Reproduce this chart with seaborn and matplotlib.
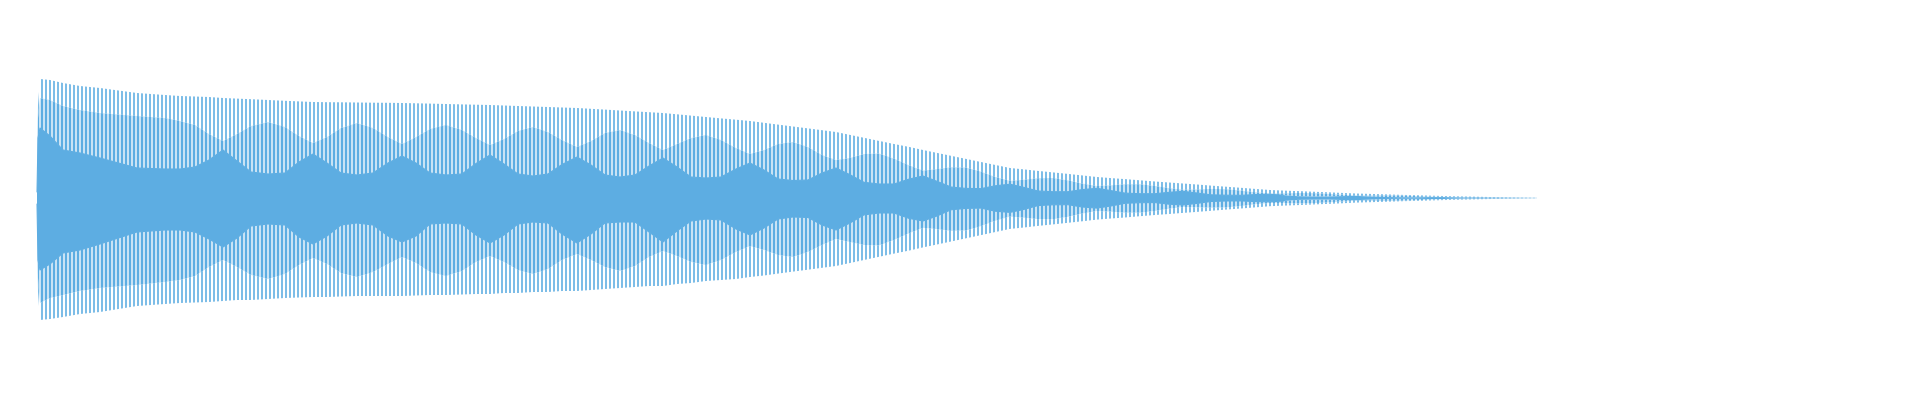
import numpy as np
import pandas as pd
import matplotlib
matplotlib.use("Agg")
import matplotlib.pyplot as plt
import seaborn as sns

COLOR = "#5DADE2"

# time since onset (ms) of envelope reading points
time_ms = [0, 1, 3, 13, 26, 43, 63, 100, 128, 143, 158, 172,
           186, 200, 214, 231, 248, 262,
           276, 290, 304, 320, 336, 351,
           365, 379, 393, 409, 425, 439,
           453, 467, 481, 496, 511, 525,
           540, 554, 568, 583, 598, 612,
           626, 640, 654, 669, 684, 699,
           713, 727, 741, 756, 771, 785,
           799, 813, 827, 842, 857, 872,
           886, 900, 914, 929, 944, 958,
           973, 987, 1001, 1016, 1031, 1045,
           1060, 1074, 1088, 1103, 1118, 1132,
           1146, 1160, 1174, 1189, 1204, 1218,
           1233, 1247, 1261, 1276, 1291, 1305,
           1319, 1333, 1347, 1363, 1378, 1392,
           1406, 1428, 1453, 1478, 1500]

# peak amplitude reached by the tallest spikes (upper side)
outer_up = [6, 93, 119, 118, 115, 112, 110, 105, 103, 102, 101.5, 101,
            100, 99.4, 98.8, 98, 97.2, 96.6,
            96, 95.8, 95.7, 95.5, 95.3, 95.2,
            95, 94.7, 94.4, 94, 93.6, 93.3,
            93, 92.5, 92, 91.5, 91, 90.5,
            90, 89.2, 88.4, 87.5, 86.6, 85.8,
            85, 83.7, 82.4, 81, 79.6, 78.3,
            77, 75.2, 73.4, 71.5, 69.6, 67.8,
            66, 63.1, 60.2, 57.1, 54, 51.1,
            48, 45.1, 42.2, 39.1, 36, 33.1,
            30, 28.6, 27.1, 25.6, 24.1, 22.6,
            21, 19.9, 18.9, 17.7, 16.5, 15.5,
            14.5, 13.5, 12.4, 11.3, 10.2, 9.1,
            8, 7.4, 6.9, 6.3, 5.7, 5.1,
            4.5, 4.1, 3.7, 3.2, 2.8, 2.4,
            2, 1.5, 1, 0.6, 0.3]

# height of the shorter secondary spikes (upper side)
second_up = [6, 80, 100, 98, 92, 88, 85, 82, 80, 77, 73, 64,
             57, 64, 72, 76, 71, 62,
             55, 61, 70, 75, 70, 61,
             54, 61, 69, 73, 68, 60,
             53, 59, 67, 71, 66, 58,
             51, 57, 65, 68, 63, 55,
             48, 54, 60, 63, 58, 50,
             44, 48, 54, 56, 51, 43,
             38, 40, 44, 44.5, 39.4, 32.7,
             27.4, 28.9, 30.8, 30.5, 26.3, 21.2,
             17.1, 18.3, 19.8, 20, 17.6, 14.5,
             12, 12.7, 13.8, 13.8, 12, 9.9,
             8.3, 8.6, 9.1, 8.8, 7.4, 5.8,
             4.6, 4.7, 5, 4.9, 4.2, 3.3,
             2.6, 2.6, 2.7, 2.5, 2, 1.5,
             1.1, 1.1, 0.78, 0.4, 0.2]

# edge of the dense (solid) core, upper side
inner_up = [6, 60, 70, 62, 48, 45, 40, 30, 29, 29, 31, 38,
            48, 37, 26, 24, 25, 36,
            44, 35, 25, 23, 25, 35,
            42, 35, 25, 23, 24, 34.5,
            43, 34, 24, 22, 24, 33.5,
            41, 33, 23, 21, 23, 32,
            40, 31, 21, 20, 21, 29,
            35, 28, 19, 17.5, 18, 25,
            30, 23.3, 15.7, 14, 14, 18.9,
            22, 16.7, 11, 9.6, 9.4, 12.2,
            13.8, 10.6, 7, 6.3, 6.3, 8.4,
            9.7, 7.4, 4.9, 4.3, 4.3, 5.7,
            6.7, 5, 3.2, 2.8, 2.7, 3.4,
            3.7, 2.7, 1.8, 1.5, 1.5, 1.9,
            2.1, 1.5, 1, 0.8, 0.7, 0.9,
            0.9, 0.4, 0.25, 0.2, 0.1]

# edge of the dense (solid) core, lower side
inner_down = [-6, -62, -72, -66, -55, -52, -46, -34, -32, -32, -34, -41,
              -49, -40, -28, -26, -27, -39,
              -46, -38, -27, -25, -27, -38,
              -44, -38, -26, -25, -26, -37,
              -45, -37, -26, -24, -25, -36,
              -45, -36, -25, -24, -24, -34,
              -44, -33, -23, -21, -22, -31,
              -37, -30, -21, -19, -19.5, -27,
              -32, -25, -16.9, -15, -15, -20.4,
              -23, -18, -11.8, -10.4, -10.1, -13.2,
              -14.4, -11.4, -7.6, -6.8, -6.7, -9,
              -10.1, -8, -5.3, -4.7, -4.6, -6.2,
              -7, -5.4, -3.5, -3, -2.9, -3.6,
              -3.8, -3, -1.9, -1.7, -1.6, -2,
              -2.2, -1.6, -1, -0.85, -0.8, -1,
              -1, -0.45, -0.27, -0.2, -0.1]

# height of the shorter secondary spikes (lower side)
second_down = [-6, -80, -105, -100, -97, -93, -90, -87, -84, -82, -78, -69,
               -62, -69, -77, -81, -76, -67,
               -60, -66, -75, -79, -74, -66,
               -59, -65, -74, -78, -73, -64,
               -58, -64, -72, -76, -71, -62,
               -56, -62, -69, -73, -68, -59,
               -53, -58, -64, -67, -62, -54,
               -48, -52, -57, -59, -54, -47,
               -41, -44, -47, -47.4, -42, -35.3,
               -29.8, -31.1, -32.9, -32.5, -28.1, -22.8,
               -18.6, -19.7, -21.1, -21.2, -18.8, -15.6,
               -13, -13.7, -14.7, -14.7, -12.9, -10.7,
               -9, -9.3, -9.7, -9.4, -8, -6.3,
               -5, -5.1, -5.4, -5.2, -4.4, -3.5,
               -2.8, -2.8, -2.9, -2.7, -2.2, -1.7,
               -1.2, -1.2, -0.83, -0.45, -0.2]

# peak amplitude reached by the tallest spikes (lower side)
outer_down = [-6, -94, -122, -121, -119, -116, -114, -108, -106, -105, -104.5, -104,
              -103, -102, -102, -101, -100, -99.5,
              -99, -99, -98.5, -98, -98, -98,
              -98, -97.5, -97, -97, -96.5, -96,
              -96, -95, -95, -94, -94, -93,
              -93, -92, -91, -90, -89, -88,
              -88, -86, -85, -83, -82, -81,
              -79, -77.5, -75.6, -73.6, -71.7, -69.8,
              -68, -65, -62, -58.8, -55.6, -52.6,
              -49.4, -46.5, -43.5, -40.3, -37.1, -34.1,
              -30.9, -29.5, -27.9, -26.4, -24.8, -23.3,
              -21.6, -20.5, -19.5, -18.2, -17, -16,
              -14.9, -13.9, -12.8, -11.6, -10.5, -9.4,
              -8.2, -7.6, -7.1, -6.5, -5.9, -5.3,
              -4.6, -4.2, -3.8, -3.3, -2.9, -2.5,
              -2.1, -1.55, -1.03, -0.62, -0.3]

sns.set_theme(style="white")
plt.rcParams["hatch.color"] = COLOR

DPI = 96
fig = plt.figure(figsize=(1920 / DPI, 400 / DPI), dpi=DPI, facecolor="white")
ax = fig.add_axes([0, 0, 1, 1])
ax.set_facecolor("white")

t = np.asarray(time_ms, dtype=float)


def spike_band(lo, hi, hatch_lw):
    plt.rcParams["hatch.linewidth"] = hatch_lw
    coll = ax.fill_between(t, lo, hi, facecolor="none", edgecolor=COLOR,
                           hatch="||||", linewidth=0)
    if hasattr(coll, "set_hatch_linewidth"):
        coll.set_hatch_linewidth(hatch_lw)
    return coll


# dense core
ax.fill_between(t, inner_down, inner_up, facecolor=COLOR, edgecolor="none", linewidth=0)
# band with two spikes per cycle (thick spikes)
spike_band(inner_up, second_up, 2.0)
spike_band(second_down, inner_down, 2.0)
# band with only the tall spike per cycle (thin spikes)
spike_band(second_up, outer_up, 1.2)
spike_band(outer_down, second_down, 1.2)

# crisp outline of the dense core while it is still wider than a few pixels
n_edge = sum(1 for v in inner_up if v >= 2.5)
edges = pd.DataFrame({
    "time": list(time_ms[:n_edge]) * 2,
    "amp": list(inner_up[:n_edge]) + list(inner_down[:n_edge]),
    "edge": ["upper"] * n_edge + ["lower"] * n_edge,
})
sns.lineplot(data=edges, x="time", y="amp", hue="edge", palette=[COLOR, COLOR],
             linewidth=0.8, legend=False, ax=ax, estimator=None, sort=False)

ax.set_xlim(-37, 1883)
ax.set_ylim(-202, 198)
ax.axis("off")

fig.savefig("out.png", dpi=DPI, facecolor="white")
